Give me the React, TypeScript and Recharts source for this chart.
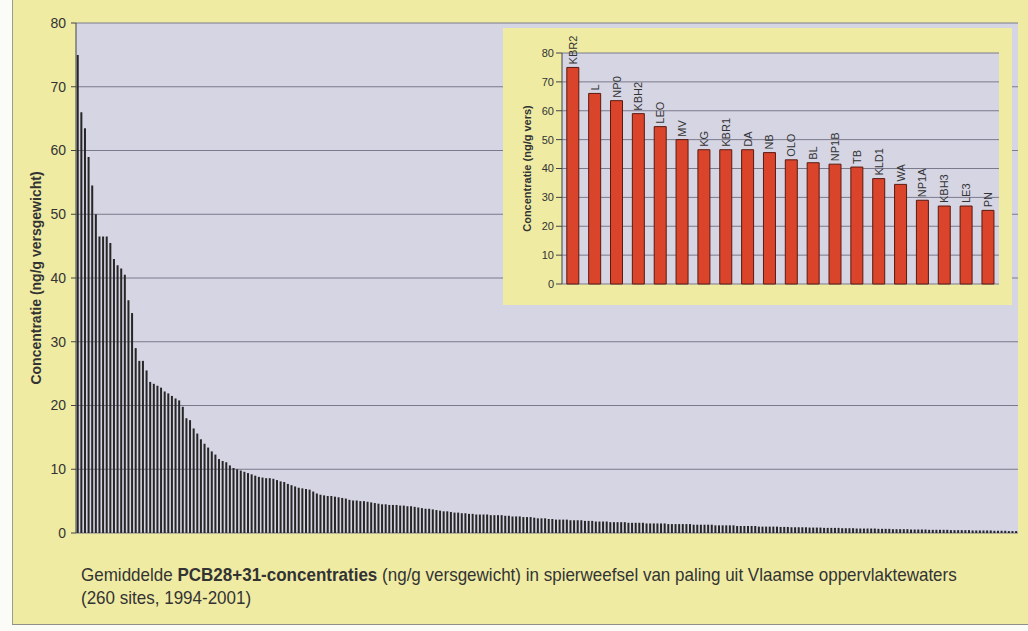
import React from 'react';
import { BarChart, Bar, XAxis, YAxis, CartesianGrid, LabelList } from 'recharts';

// top 20 sites (inset)
const INSET_SITES = ['KBR2', 'L', 'NP0', 'KBH2', 'LEO', 'MV', 'KG', 'KBR1', 'DA', 'NB', 'OLO', 'BL', 'NP1B', 'TB', 'KLD1', 'WA', 'NP1A', 'KBH3', 'LE3', 'PN'];
const INSET_VALUES = [75, 66, 63.5, 59, 54.5, 50, 46.5, 46.5, 46.5, 45.5, 43, 42, 41.5, 40.5, 36.5, 34.5, 29, 27, 27, 25.5];

// remaining 240 sites, sorted descending
const OTHER_VALUES = [
  23.7, 23.4, 23.1, 22.8, 22.2, 21.9, 21.5, 21.1, 20.8, 19.8,
  18.0, 17.7, 16.4, 15.6, 14.7, 14.0, 13.4, 12.8, 12.3, 11.6,
  11.3, 11.1, 10.6, 10.2, 10.0, 9.8, 9.6, 9.4, 9.2, 9.0,
  8.8, 8.7, 8.6, 8.6, 8.5, 8.3, 8.1, 8.0, 7.7, 7.5,
  7.3, 7.1, 7.0, 6.9, 6.8, 6.5, 6.2, 6.0, 5.9, 5.8,
  5.8, 5.7, 5.6,
  5.5, 5.4, 5.2, 5.1, 5.1, 5.0, 5.0, 4.9, 4.8, 4.7,
  4.6, 4.5, 4.5, 4.4, 4.4, 4.4, 4.3, 4.3, 4.2, 4.2,
  4.1, 4.0, 3.9, 3.8, 3.8, 3.7, 3.6, 3.5, 3.4, 3.4,
  3.3, 3.2, 3.2, 3.1, 3.1, 3.0, 3.0, 2.9, 2.9, 2.9,
  2.9, 2.8, 2.8, 2.8, 2.8, 2.7, 2.7, 2.6, 2.6, 2.6,
  2.5, 2.5, 2.5, 2.4, 2.3, 2.3, 2.3, 2.2, 2.2, 2.1,
  2.1, 2.1, 2.1, 2.0, 2.0, 2.0, 2.0, 1.9, 1.9, 1.9,
  1.8, 1.8, 1.8, 1.8, 1.7, 1.7, 1.7, 1.7, 1.7, 1.6,
  1.6, 1.6, 1.6, 1.6, 1.5, 1.5, 1.5, 1.5, 1.5, 1.5,
  1.4, 1.4, 1.4, 1.4, 1.4, 1.4, 1.4, 1.3, 1.3, 1.3,
  1.3, 1.3, 1.3, 1.2, 1.2, 1.2, 1.2, 1.2, 1.2, 1.1,
  1.1, 1.1, 1.1, 1.1, 1.1, 1.0, 1.0, 1.0, 1.0, 1.0,
  1.0, 0.95, 0.95, 0.95, 0.9, 0.9, 0.9, 0.9, 0.9, 0.85,
  0.85, 0.85, 0.85, 0.8, 0.8, 0.8, 0.8, 0.8, 0.75, 0.75,
  0.75, 0.75, 0.7, 0.7, 0.7, 0.7, 0.7, 0.7, 0.65, 0.65,
  0.65, 0.65, 0.6, 0.6, 0.6, 0.6, 0.6, 0.55, 0.55, 0.55,
  0.55, 0.55, 0.5, 0.5, 0.5, 0.5, 0.5, 0.5, 0.45, 0.45,
  0.45, 0.45, 0.45, 0.45, 0.4, 0.4, 0.4, 0.4, 0.4, 0.4,
  0.35, 0.35, 0.35, 0.35, 0.3, 0.3, 0.3,
];

const Y_TICKS = [0, 10, 20, 30, 40, 50, 60, 70, 80];

const FONT = '"Liberation Sans", Arial, sans-serif';
const YELLOW = '#efeba3';
const PLOT_BG = '#d5d5e3';
const GRID = '#7a7a8c';

const mainData = [...INSET_VALUES, ...OTHER_VALUES].map((value, i) => ({ site: i + 1, value }));
const insetData = INSET_SITES.map((site, i) => ({ site, value: INSET_VALUES[i] }));

const AxisTitle = ({ viewBox, value, dx, fontSize }: any) => {
  const x = viewBox.x + dx;
  const y = viewBox.y + viewBox.height / 2;
  return (
    <text
      x={x}
      y={y}
      transform={`rotate(-90 ${x} ${y})`}
      textAnchor="middle"
      dominantBaseline="central"
      fontFamily={FONT}
      fontSize={fontSize}
      fontWeight="bold"
      fill="#333"
    >
      {value}
    </text>
  );
};

const SiteLabel = (props: any) => {
  const { x, y, width, value } = props;
  const cx = x + width / 2;
  const ty = y - 3;
  return (
    <text
      x={cx}
      y={ty}
      transform={`rotate(-90 ${cx} ${ty})`}
      textAnchor="start"
      dominantBaseline="central"
      fontFamily={FONT}
      fontSize={11}
      fill="#333"
    >
      {value}
    </text>
  );
};

export default function App() {
  return (
    <div style={{ position: 'absolute', left: 0, top: 0, width: 1028, height: 631, background: '#fbfbf8', overflow: 'hidden' }}>
      <div
        style={{
          position: 'absolute', left: 12, top: 0, width: 1016, height: 624,
          background: YELLOW, borderLeft: '1px solid #9c9c94', borderBottom: '1px solid #8f8f88',
        }}
      />

      <div style={{ position: 'absolute', left: 0, top: 0 }}>
        <BarChart width={1028} height={560} data={mainData} margin={{ top: 23, right: 10, bottom: 27, left: 16 }} barCategoryGap="20%">
          <CartesianGrid vertical={false} stroke={GRID} fill={PLOT_BG} />
          <XAxis dataKey="site" tick={false} tickLine={false} height={0} axisLine={{ stroke: '#333' }} />
          <YAxis
            domain={[0, 80]}
            ticks={Y_TICKS}
            interval={0}
            width={60}
            tickSize={5}
            tickMargin={5}
            tick={{ fontSize: 14, fill: '#333', fontFamily: FONT }}
            axisLine={{ stroke: '#444' }}
            tickLine={{ stroke: '#444' }}
            label={<AxisTitle value="Concentratie (ng/g versgewicht)" dx={20} fontSize={14} />}
          />
          <YAxis yAxisId="frame" orientation="right" domain={[0, 80]} width={0} tick={false} tickLine={false} axisLine={{ stroke: '#999' }} />
          <Bar dataKey="value" fill="#262626" isAnimationActive={false} />
        </BarChart>
      </div>

      <div style={{ position: 'absolute', left: 503, top: 28, width: 509, height: 277, background: YELLOW }}>
        <BarChart width={509} height={277} data={insetData} margin={{ top: 25, right: 13, bottom: 21, left: 9 }} barCategoryGap="22%">
          <CartesianGrid vertical={false} stroke={GRID} fill={PLOT_BG} />
          <XAxis dataKey="site" tick={false} tickLine={false} height={0} axisLine={{ stroke: '#333' }} />
          <YAxis
            domain={[0, 80]}
            ticks={Y_TICKS}
            interval={0}
            width={50}
            tick={{ fontSize: 11, fill: '#333', fontFamily: FONT }}
            axisLine={{ stroke: '#444' }}
            tickLine={{ stroke: '#444' }}
            label={<AxisTitle value="Concentratie (ng/g vers)" dx={15} fontSize={11} />}
          />
          <YAxis yAxisId="frame" orientation="right" domain={[0, 80]} width={0} tick={false} tickLine={false} axisLine={{ stroke: '#888' }} />
          <Bar dataKey="value" fill="#d9442b" stroke="#5a1a10" strokeWidth={1} isAnimationActive={false}>
            <LabelList dataKey="site" content={<SiteLabel />} />
          </Bar>
        </BarChart>
      </div>

      <div
        style={{
          position: 'absolute', left: 81, top: 563, fontFamily: FONT, whiteSpace: 'nowrap',
          fontSize: 19, lineHeight: '23px', color: '#333', transform: 'scaleX(0.895)', transformOrigin: 'left top',
        }}
      >
        Gemiddelde <b>PCB28+31-concentraties</b> (ng/g versgewicht) in spierweefsel van paling uit Vlaamse oppervlaktewaters
        <br />
        (260 sites, 1994-2001)
      </div>
    </div>
  );
}
